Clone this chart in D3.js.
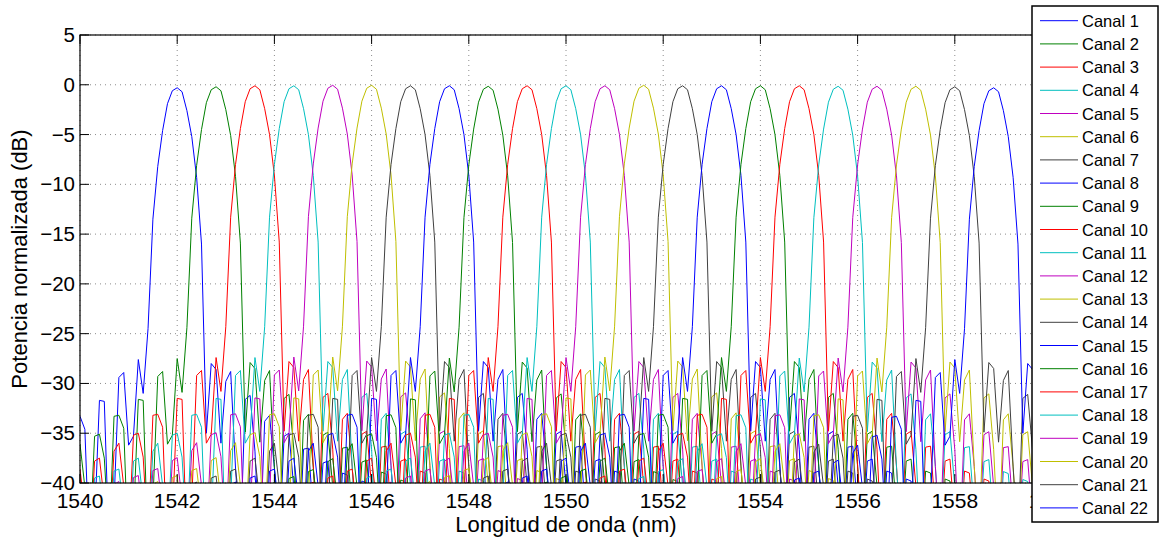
<!DOCTYPE html>
<html>
<head>
<meta charset="utf-8">
<script src="https://cdn.jsdelivr.net/npm/d3@7"></script>
<style>
body { margin: 0; background: #fff; }
text { font-family: "Liberation Sans", Arial, Helvetica, sans-serif; fill: #000; }
</style>
</head>
<body>
<svg></svg>
<script>
var channels = ["Canal 1", "Canal 2", "Canal 3", "Canal 4", "Canal 5", "Canal 6", "Canal 7", "Canal 8",
    "Canal 9", "Canal 10", "Canal 11", "Canal 12", "Canal 13", "Canal 14", "Canal 15", "Canal 16",
    "Canal 17", "Canal 18", "Canal 19", "Canal 20", "Canal 21", "Canal 22"];
// centre wavelength of each channel (nm)
var centers = [1542.0, 1542.8, 1543.6, 1544.4, 1545.2, 1546.0, 1546.8, 1547.6, 1548.4, 1549.2, 1550.0,
    1550.8, 1551.6, 1552.4, 1553.2, 1554.0, 1554.8, 1555.6, 1556.4, 1557.2, 1558.0, 1558.8];
// peak level of each channel (dB)
var peakLevels = [-0.3, -0.2, -0.1, -0.1, -0.05, -0.05, -0.1, -0.1, -0.15, -0.1, -0.1,
    -0.1, -0.05, -0.1, -0.1, -0.1, -0.1, -0.15, -0.15, -0.15, -0.2, -0.3];
var profileStart = -4.6, profileStep = 0.1, profilePeak = 46;
var profileDb = [
    -47, -40.4, -40.1, -45, -48, -39.7, -39.5, -44, -47, -39.0,
    -38.8, -43, -47, -38.0, -37.7, -42, -46, -37.0, -36.2, -40.5,
    -46, -35.4, -35.2, -37.6, -46, -33.4, -33.3, -34.6, -48, -44,
    -31.7, -31.8, -47, -42, -29.4, -28.9, -36.2, -35.3, -27.6, -31.0,
    -24.5, -13.5, -8.2, -4.6, -1.9, -0.6,
    -0.3,
    -0.7, -2.6, -5.2, -9.3, -16.0, -35.0, -28.0, -28.6, -36.0, -29.8,
    -28.8, -38.5, -46, -31.6, -31.2, -36.8, -47, -33.8, -33.2, -38.5,
    -46, -35.3, -35.0, -40.5, -47, -36.6, -36.5, -43, -46, -38.0,
    -37.8, -44, -47, -39.0, -39.2, -45, -48, -39.8, -40.0, -46,
    -48, -40.3, -40.6, -47, -48, -48];
var xTicks = [1540, 1542, 1544, 1546, 1548, 1550, 1552, 1554, 1556, 1558, 1560];
var yTicks = [5, 0, -5, -10, -15, -20, -25, -30, -35, -40];
var colors = ["#0000ff", "#008000", "#ff0000", "#00bfbf", "#bf00bf", "#bfbf00", "#404040"];

var svgWidth = 1165, svgHeight = 541;
var plotLeft = 80, plotTop = 35, plotRight = 1052, plotBottom = 483;

var svg = d3.select("svg")
    .attr("width", svgWidth)
    .attr("height", svgHeight);

var xScale = d3.scaleLinear()
    .domain([1540, 1560])
    .range([plotLeft, plotRight]);

var yScale = d3.scaleLinear()
    .domain([-40, 5])
    .range([plotBottom, plotTop]);

svg.append("clipPath")
    .attr("id", "plotclip")
    .append("rect")
    .attr("x", plotLeft)
    .attr("y", plotTop)
    .attr("width", plotRight - plotLeft)
    .attr("height", plotBottom - plotTop);

// dotted grid
svg.append("g").selectAll("line")
    .data(xTicks)
    .enter()
    .append("line")
    .attr("x1", function(d){ return xScale(d); })
    .attr("x2", function(d){ return xScale(d); })
    .attr("y1", plotTop)
    .attr("y2", plotBottom)
    .attr("stroke", "#8c8c8c")
    .attr("stroke-dasharray", "1,4");

svg.append("g").selectAll("line")
    .data(yTicks)
    .enter()
    .append("line")
    .attr("x1", plotLeft)
    .attr("x2", plotRight)
    .attr("y1", function(d){ return yScale(d); })
    .attr("y2", function(d){ return yScale(d); })
    .attr("stroke", "#8c8c8c")
    .attr("stroke-dasharray", "1,4");

// channel curves
var line = d3.line()
    .x(function(d){ return xScale(d.x); })
    .y(function(d){ return yScale(d.y); });

var series = centers.map(function(c, k){
    return profileDb.map(function(v, i){
        return { x: c + profileStart + i * profileStep, y: v - profileDb[profilePeak] + peakLevels[k] };
    });
});

svg.append("g")
    .attr("clip-path", "url(#plotclip)")
    .selectAll("path")
    .data(series)
    .enter()
    .append("path")
    .attr("d", line)
    .attr("fill", "none")
    .attr("stroke", function(d, i){ return colors[i % colors.length]; })
    .attr("stroke-width", 1);

// axes box and inward ticks
svg.append("rect")
    .attr("x", plotLeft)
    .attr("y", plotTop)
    .attr("width", plotRight - plotLeft)
    .attr("height", plotBottom - plotTop)
    .attr("fill", "none")
    .attr("stroke", "#000")
    .attr("stroke-width", 1.2);

var tickLen = 9;
var ticks = svg.append("g").attr("stroke", "#000").attr("stroke-width", 1);
xTicks.forEach(function(t){
    ticks.append("line").attr("x1", xScale(t)).attr("x2", xScale(t)).attr("y1", plotBottom).attr("y2", plotBottom - tickLen);
    ticks.append("line").attr("x1", xScale(t)).attr("x2", xScale(t)).attr("y1", plotTop).attr("y2", plotTop + tickLen);
});
yTicks.forEach(function(t){
    ticks.append("line").attr("x1", plotLeft).attr("x2", plotLeft + tickLen).attr("y1", yScale(t)).attr("y2", yScale(t));
    ticks.append("line").attr("x1", plotRight).attr("x2", plotRight - tickLen).attr("y1", yScale(t)).attr("y2", yScale(t));
});

svg.append("g").selectAll("text")
    .data(xTicks)
    .enter()
    .append("text")
    .attr("x", function(d){ return xScale(d); })
    .attr("y", 508)
    .attr("text-anchor", "middle")
    .attr("font-size", "21px")
    .text(function(d){ return d; });

svg.append("g").selectAll("text")
    .data(yTicks)
    .enter()
    .append("text")
    .attr("x", 75)
    .attr("y", function(d){ return yScale(d) + 7; })
    .attr("text-anchor", "end")
    .attr("font-size", "20.5px")
    .text(function(d){ return d < 0 ? "\u2212" + Math.abs(d) : d; });

svg.append("text")
    .attr("x", (plotLeft + plotRight) / 2)
    .attr("y", 532)
    .attr("text-anchor", "middle")
    .attr("font-size", "22px")
    .text("Longitud de onda (nm)");

svg.append("text")
    .attr("transform", "translate(27," + ((plotTop + plotBottom) / 2) + ") rotate(-90)")
    .attr("text-anchor", "middle")
    .attr("font-size", "22px")
    .text("Potencia normalizada (dB)");

// legend
var legend = svg.append("g");
legend.append("rect")
    .attr("x", 1032)
    .attr("y", 6)
    .attr("width", 126)
    .attr("height", 516)
    .attr("fill", "#fff")
    .attr("stroke", "#000")
    .attr("stroke-width", 1.5);

var rowStep = 23.2;
var rows = legend.selectAll("g.row")
    .data(channels)
    .enter()
    .append("g")
    .attr("class", "row")
    .attr("transform", function(d, i){ return "translate(0," + (20.7 + rowStep * i) + ")"; });

rows.append("line")
    .attr("x1", 1040)
    .attr("x2", 1078)
    .attr("stroke", function(d, i){ return colors[i % colors.length]; })
    .attr("stroke-width", 1);

rows.append("text")
    .attr("x", 1082)
    .attr("y", 6)
    .attr("font-size", "16.5px")
    .text(function(d){ return d; });
</script>
</body>
</html>
